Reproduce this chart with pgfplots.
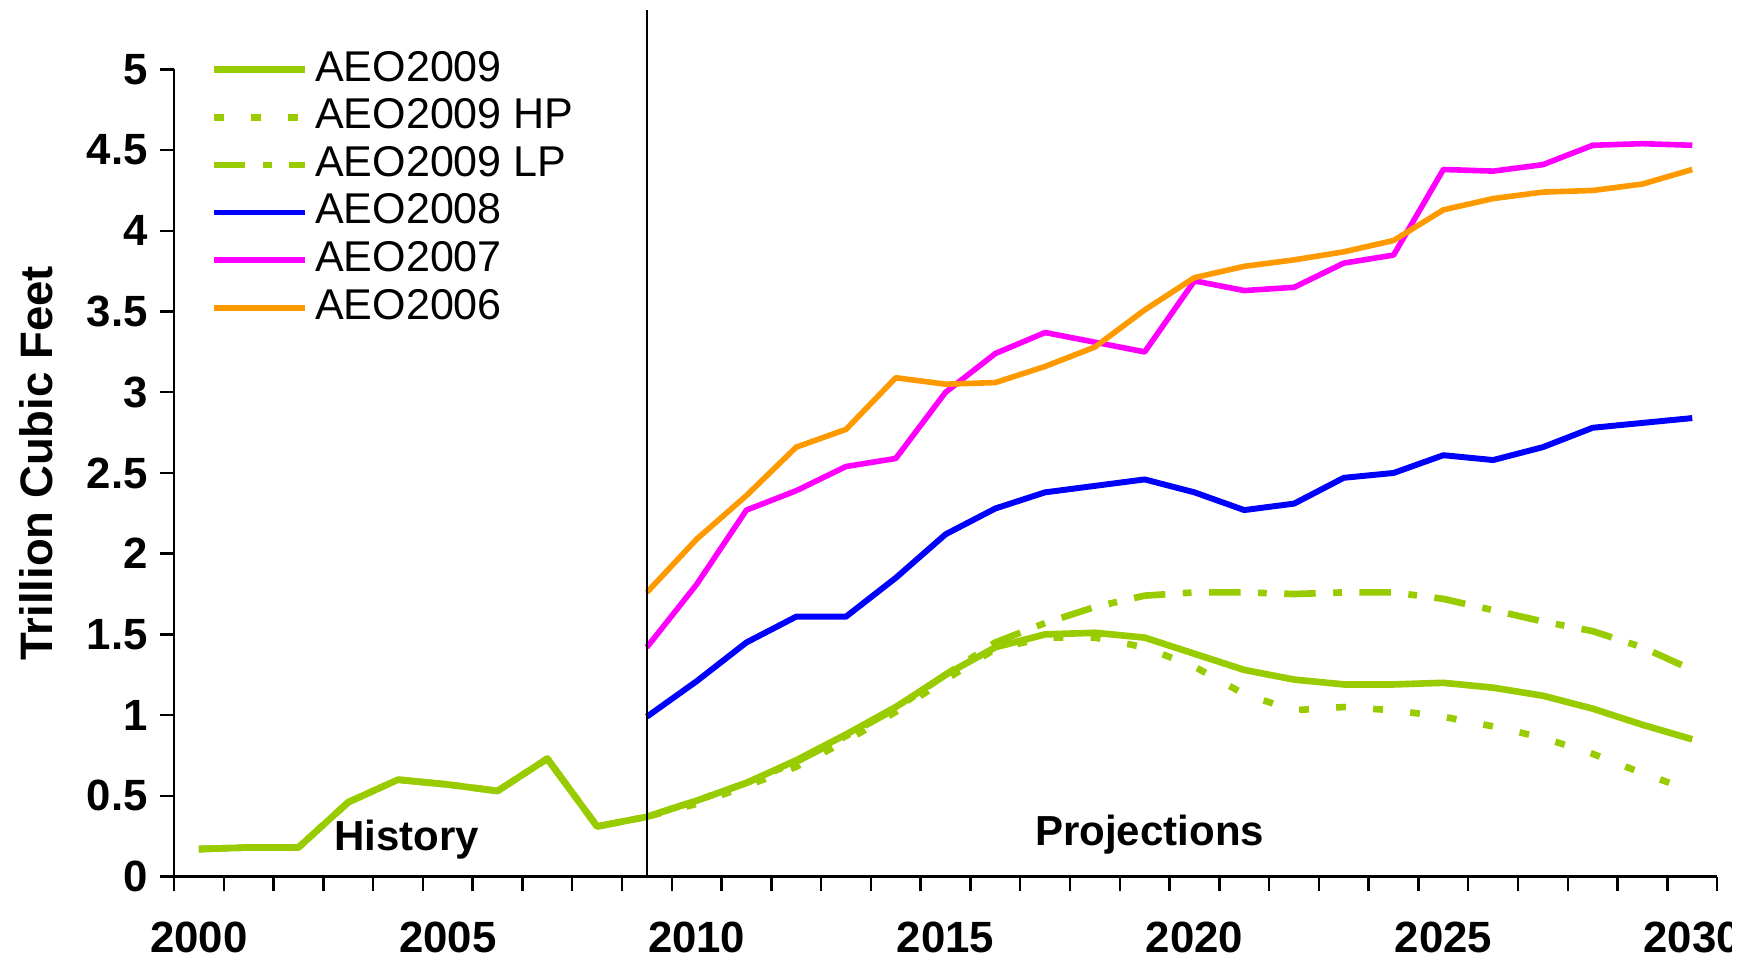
\documentclass[border=0pt]{standalone}
\usepackage{fontspec}
\setmainfont{Liberation Sans}
\usepackage{pgfplots}
\pgfplotsset{compat=1.18}
\definecolor{aeogreen}{HTML}{99CC00}
\definecolor{aeoblue}{HTML}{0000FF}
\definecolor{aeomag}{HTML}{FF00FF}
\definecolor{aeoorange}{HTML}{FF9900}
\begin{document}
\begin{tikzpicture}
\begin{axis}[
    scale only axis,
    width=440.9pt, height=230.6pt,
    xmin=1999.5, xmax=2030.5, ymin=0, ymax=5,
    axis lines*=left,
    axis line style={line width=0.7pt},
    clip=false,
    xtick={2000,2005,...,2030},
    major x tick style={draw=none},
    minor xtick={1999.5,2000.5,...,2030.5},
    ytick={0,0.5,...,5},
    tick align=outside,
    tick style={black, line width=0.7pt},
    major tick length=4pt, minor tick length=4pt,
    /pgf/number format/1000 sep={},
    /pgf/number format/assume math mode=true,
    ticklabel style={font=\bfseries\fontsize{12.5}{14}\selectfont},
    xticklabel style={yshift=-5.4pt},
    ylabel={Trillion Cubic Feet},
    ylabel style={font=\bfseries\fontsize{13}{15}\selectfont, at={(axis description cs:-0.089,0.512)}, anchor=center},
    legend style={draw=none, fill=none, at={(axis cs:2000.22,5.15)}, anchor=north west,
        font=\fontsize{12.3}{14}\selectfont, inner sep=0pt, row sep=0pt,
        nodes={text height=9pt, text depth=2.5pt, inner ysep=1.05pt, inner xsep=2pt}},
    legend cell align=left,
    legend image code/.code={\draw[#1] (0pt,0pt) -- (26pt,0pt);},
    every axis plot/.append style={line join=round},
]
% history 2000-2009 shared by all AEO2009 cases
\addplot[aeogreen, line width=1.9pt] coordinates {
    (2000,0.17) (2001,0.18) (2002,0.18) (2003,0.46) (2004,0.60) (2005,0.57)
    (2006,0.53) (2007,0.73) (2008,0.31) (2009,0.37)
    (2010,0.47) (2011,0.58) (2012,0.72) (2013,0.88) (2014,1.05) (2015,1.25)
    (2016,1.42) (2017,1.50) (2018,1.51) (2019,1.48) (2020,1.38) (2021,1.28)
    (2022,1.22) (2023,1.19) (2024,1.19) (2025,1.20) (2026,1.17) (2027,1.12)
    (2028,1.04) (2029,0.94) (2030,0.85)};
\addlegendentry{AEO2009}
\addplot[aeogreen, line width=1.9pt, dash pattern=on 2.8pt off 7.8pt] coordinates {
    (2000,0.17) (2001,0.18) (2002,0.18) (2003,0.46) (2004,0.60) (2005,0.57)
    (2006,0.53) (2007,0.73) (2008,0.31) (2009,0.37)
    (2010,0.45) (2011,0.56) (2012,0.68) (2013,0.84) (2014,1.02) (2015,1.22)
    (2016,1.41) (2017,1.48) (2018,1.48) (2019,1.42) (2020,1.30) (2021,1.13)
    (2022,1.03) (2023,1.05) (2024,1.03) (2025,0.99) (2026,0.93) (2027,0.86)
    (2028,0.76) (2029,0.64) (2030,0.53)};
\addlegendentry{AEO2009 HP}
\addplot[aeogreen, line width=1.9pt, dash pattern=on 9pt off 5pt on 2.5pt off 5pt] coordinates {
    (2000,0.17) (2001,0.18) (2002,0.18) (2003,0.46) (2004,0.60) (2005,0.57)
    (2006,0.53) (2007,0.73) (2008,0.31) (2009,0.37)
    (2010,0.47) (2011,0.58) (2012,0.71) (2013,0.87) (2014,1.04) (2015,1.25)
    (2016,1.45) (2017,1.57) (2018,1.67) (2019,1.74) (2020,1.76) (2021,1.76)
    (2022,1.75) (2023,1.76) (2024,1.76) (2025,1.72) (2026,1.65) (2027,1.58)
    (2028,1.52) (2029,1.42) (2030,1.28)};
\addlegendentry{AEO2009 LP}
\addplot[aeoblue, line width=1.7pt] coordinates {
    (2009,0.99) (2010,1.21) (2011,1.45) (2012,1.61) (2013,1.61) (2014,1.85)
    (2015,2.12) (2016,2.28) (2017,2.38) (2018,2.42) (2019,2.46) (2020,2.38)
    (2021,2.27) (2022,2.31) (2023,2.47) (2024,2.50) (2025,2.61) (2026,2.58)
    (2027,2.66) (2028,2.78) (2029,2.81) (2030,2.84)};
\addlegendentry{AEO2008}
\addplot[aeomag, line width=1.6pt] coordinates {
    (2009,1.42) (2010,1.81) (2011,2.27) (2012,2.39) (2013,2.54) (2014,2.59)
    (2015,3.00) (2016,3.24) (2017,3.37) (2018,3.31) (2019,3.25) (2020,3.69)
    (2021,3.63) (2022,3.65) (2023,3.80) (2024,3.85) (2025,4.38) (2026,4.37)
    (2027,4.41) (2028,4.53) (2029,4.54) (2030,4.53)};
\addlegendentry{AEO2007}
\addplot[aeoorange, line width=1.6pt] coordinates {
    (2009,1.76) (2010,2.09) (2011,2.36) (2012,2.66) (2013,2.77) (2014,3.09)
    (2015,3.05) (2016,3.06) (2017,3.16) (2018,3.28) (2019,3.51) (2020,3.71)
    (2021,3.78) (2022,3.82) (2023,3.87) (2024,3.94) (2025,4.13) (2026,4.20)
    (2027,4.24) (2028,4.25) (2029,4.29) (2030,4.38)};
\addlegendentry{AEO2006}
% history / projections divider
\addplot[black, line width=0.6pt, forget plot] coordinates {(2009,0) (2009,5.37)};
\node[font=\bfseries\fontsize{12}{14}\selectfont] at (axis cs:2004.18,0.23) {History};
\node[font=\bfseries\fontsize{12}{14}\selectfont] at (axis cs:2019.1,0.26) {Projections};
\coordinate (bbsw) at (axis cs:1996.005,-0.52);
\coordinate (bbne) at (axis cs:2031.16,5.43);
\coordinate (cutsw) at (axis cs:2030.80,-0.52);
\end{axis}
% the reference cuts the last year label short at its right edge
\fill[white] (cutsw) rectangle (bbne);
\pgfresetboundingbox
\path[use as bounding box] (bbsw) rectangle (bbne);
\end{tikzpicture}
\end{document}
